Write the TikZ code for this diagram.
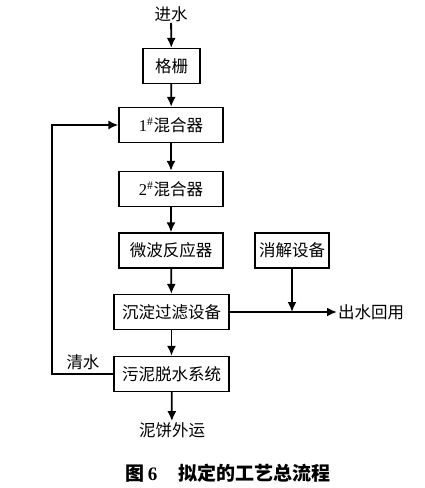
\documentclass[tikz,border=0pt]{standalone}
\usepackage{fontspec}
\setmainfont{Liberation Serif}
\newfontfamily\cjk{Noto Sans CJK SC}
\usetikzlibrary{arrows.meta}

\tikzset{
    unit/.style={draw, line width=1.3pt, inner sep=0pt, minimum height=35pt, font=\cjk\fontsize{16.5}{18}\selectfont},
    label/.style={inner sep=1pt, font=\cjk\fontsize{16.5}{18}\selectfont},
    flow/.style={->, line width=1.8pt},
    >={Latex[length=10pt,width=9pt]}
}

\begin{document}
\begin{tikzpicture}[x=1pt, y=-1pt]
        \useasboundingbox (0,0) rectangle (425,488);

        \node [label] (inlet) at (171, 14) {进水};
        \node [unit, minimum width=57pt] (grid) at (171.5, 66) {格栅};
        \node [unit, minimum width=104pt] (mix1) at (171, 125) {{\rmfamily 1\textsuperscript{\#}}混合器};
        \node [unit, minimum width=104pt] (mix2) at (171, 189) {{\rmfamily 2\textsuperscript{\#}}混合器};
        \node [unit, minimum width=104pt] (micro) at (171, 250.5) {微波反应器};
        \node [unit, minimum width=74pt] (digest) at (292, 250.5) {消解设备};
        \node [unit, minimum width=115pt] (settle) at (171.5, 312) {沉淀过滤设备};
        \node [unit, minimum width=115pt] (sludge) at (171.5, 374) {污泥脱水系统};
        \node [label, anchor=west] (reuse) at (337, 312) {出水回用};
        \node [label] (cake) at (172, 430) {泥饼外运};
        \node [label] (clear) at (83, 362) {清水};
        \coordinate (back) at (52, 374);
        \coordinate (join) at (digest.south |- settle.east);

        \draw [flow] (inlet) -- (grid);
        \draw [flow] (grid) -- (mix1);
        \draw [flow] (mix1) -- (mix2);
        \draw [flow] (mix2) -- (micro);
        \draw [flow] (micro) -- (settle);
        \draw [flow] (settle) -- (sludge);
        \draw [flow] (sludge) -- (cake);
        \draw [flow] (settle) -- (reuse);
        \draw [flow] (digest) -- (join);
        \draw [flow] (sludge.west) -- (back) |- (mix1.west);

        \node [font=\cjk\bfseries\fontsize{19}{22}\selectfont] (title) at (228, 473) {图\,{\rmfamily\bfseries 6}\hspace{1.1em}拟定的工艺总流程};
    \end{tikzpicture}
\end{document}
